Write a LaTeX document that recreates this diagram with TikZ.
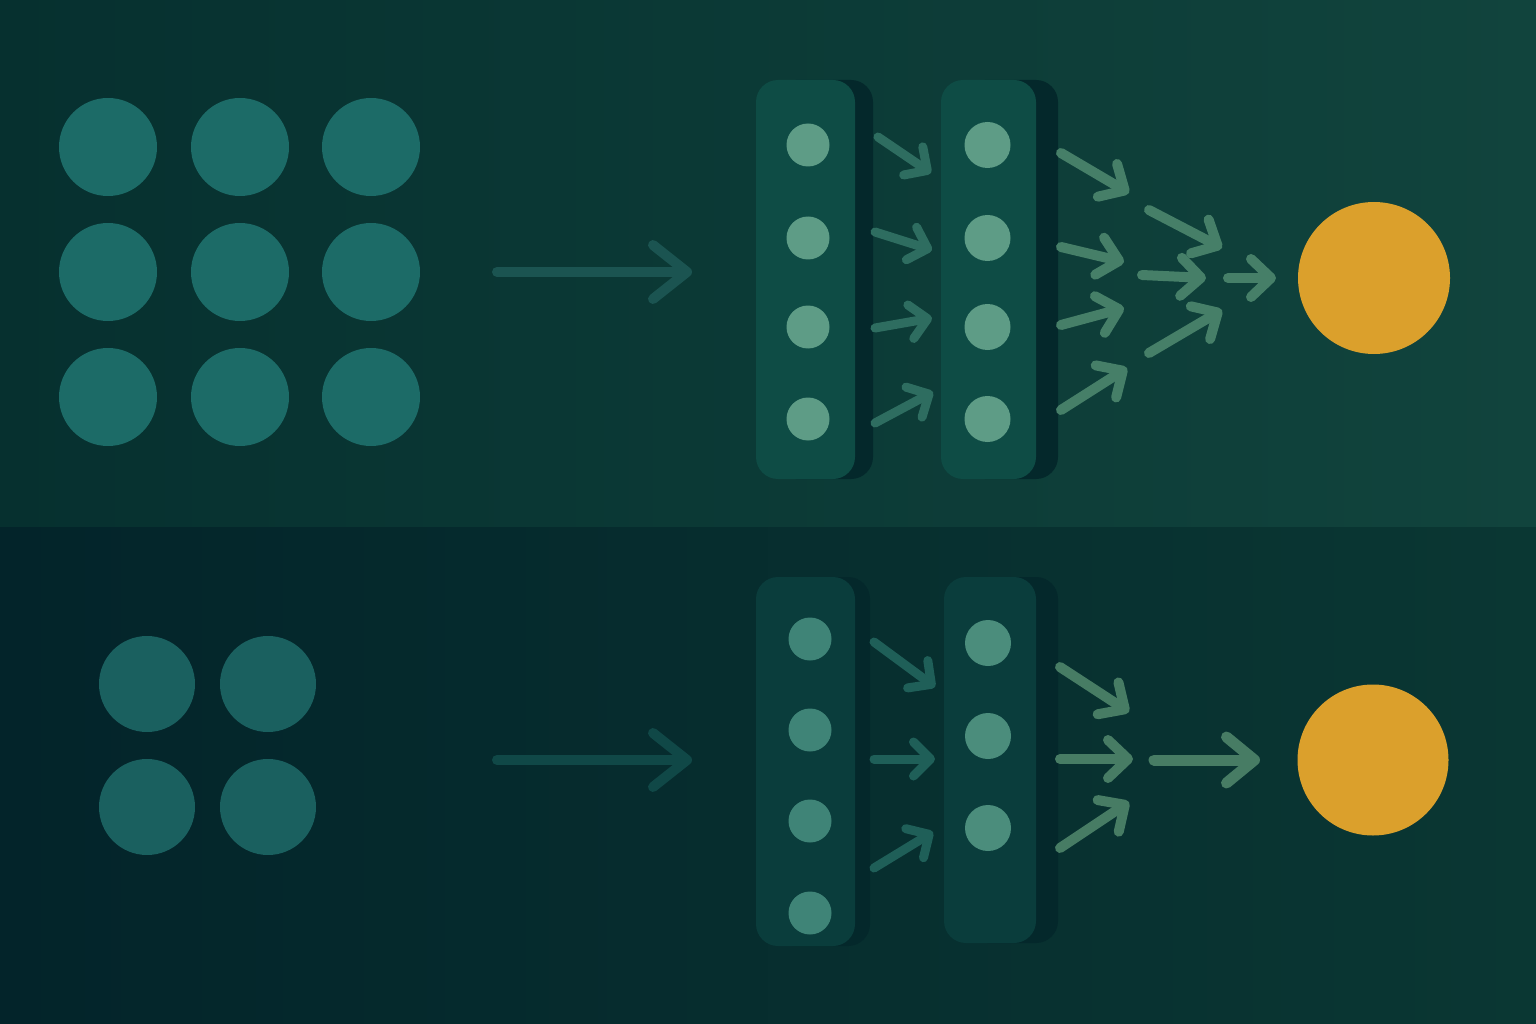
\documentclass[tikz,border=0pt]{standalone}
\usepackage{tikz}
\usetikzlibrary{arrows.meta,positioning}
\definecolor{bgtopl}{HTML}{06302F}
\definecolor{bgtopm}{HTML}{093734}
\definecolor{bgtopr}{HTML}{11443D}
\definecolor{bgbotl}{HTML}{03242A}
\definecolor{bgbotm}{HTML}{052B2E}
\definecolor{bgbotr}{HTML}{0A3733}
\definecolor{griddot}{HTML}{1C6B67}
\definecolor{griddotlo}{HTML}{1A605F}
\definecolor{panelhi}{HTML}{0E4C45}
\definecolor{panello}{HTML}{0A3D3C}
\definecolor{panelshade}{HTML}{04282B}
\definecolor{unithi}{HTML}{5E9C86}
\definecolor{unitlo}{HTML}{3F8477}
\definecolor{unitmid}{HTML}{4B8D7C}
\definecolor{flowin}{HTML}{1B5451}
\definecolor{flowinlo}{HTML}{104847}
\definecolor{flowmid}{HTML}{2E6D60}
\definecolor{flowmidlo}{HTML}{1F5F58}
\definecolor{flowout}{HTML}{467F68}
\definecolor{flowoutlo}{HTML}{477C64}
\definecolor{result}{HTML}{DBA02C}
\tikzset{
dot/.style={circle, inner sep=0pt, minimum size=98pt, fill=griddot}, % input cells
panel/.style={rounded corners=22pt, inner sep=0pt, fill=panelhi}, % one layer
panelbg/.style={rounded corners=22pt, inner sep=0pt, fill=panelshade}, % its shadow
unit/.style={circle, inner sep=0pt, minimum size=43pt, fill=unithi}, % neuron of a layer
bigunit/.style={unit, minimum size=46pt},
goal/.style={circle, inner sep=0pt, minimum size=152pt, fill=result}, % the output
flow/.style={line cap=round, line width=9pt, -{Straight Barb[length=17pt, width=34pt, line width=9pt, round]}},
bigflow/.style={line cap=round, line width=10pt, -{Straight Barb[length=34pt, width=54pt, line width=10pt, round]}},
fanflow/.style={line cap=round, line width=10pt, -{Straight Barb[length=20pt, width=38pt, line width=10pt, round]}},
}
\begin{document}
\begin{tikzpicture}[x=1pt, y=-1pt]
\useasboundingbox (0,0) rectangle (1536,1024);
% background, two bands
\fill[left color=bgtopl, middle color=bgtopm, right color=bgtopr] (0,0) rectangle (1536,527);
\fill[left color=bgbotl, middle color=bgbotm, right color=bgbotr] (0,527) rectangle (1536,1024);

% ---- upper band ----
\foreach \i/\x in {1/108,2/240,3/371}
  \foreach \j/\y in {1/147,2/272,3/397}
    \node[dot] (g\i\j) at (\x,\y) {};

\coordinate (tin) at (497,272);
\coordinate (tinend) at (692,272);
\draw[bigflow, flowin] (tin) -- (tinend);

\node[panelbg, minimum width=99pt, minimum height=399pt] (tas) at (823.5,279.5) {};
\node[panel, minimum width=99pt, minimum height=399pt] (ta) at (805.5,279.5) {};
\node[panelbg, minimum width=95pt, minimum height=399pt] (tbs) at (1010.5,279.5) {};
\node[panel, minimum width=95pt, minimum height=399pt] (tb) at (988.5,279.5) {};
\foreach \n/\y in {1/145,2/238,3/327,4/419} {
  \node[unit] (ta\n) at (808,\y) {};
  \node[bigunit] (tb\n) at (987.5,\y) {};
}

\foreach \n/\a/\b/\c/\d in {1/878/137/931/173, 2/875/232/932/250, 3/875/328/932/318, 4/875/423/933/392} {
  \coordinate (ab\n) at (\a,\b);
  \coordinate (ae\n) at (\c,\d);
  \draw[flow, flowmid] (ab\n) -- (ae\n);
}
\foreach \n/\a/\b/\c/\d in {1/1061/153/1129/193, 2/1061/247/1124/262, 3/1061/325/1124/308, 4/1061/410/1127/368,
                           5/1149/210/1222/248, 6/1142/275/1206/278, 7/1149/353/1222/310, 8/1228/278/1276/278} {
  \coordinate (bb\n) at (\a,\b);
  \coordinate (be\n) at (\c,\d);
  \draw[fanflow, flowout] (bb\n) -- (be\n);
}
\node[goal] (tout) at (1374,278) {};

% ---- lower band ----
\foreach \i/\x in {1/147,2/268}
  \foreach \j/\y in {1/684,2/807}
    \node[dot, minimum size=96pt, fill=griddotlo] (h\i\j) at (\x,\y) {};

\coordinate (bin) at (497,760);
\coordinate (binend) at (692,760);
\draw[bigflow, flowinlo] (bin) -- (binend);

\node[panelbg, minimum width=99pt, minimum height=369pt] (bas) at (820.5,761.5) {};
\node[panel, fill=panello, minimum width=99pt, minimum height=369pt] (ba) at (805.5,761.5) {};
\node[panelbg, minimum width=92pt, minimum height=366pt] (bbs) at (1012,760) {};
\node[panel, fill=panello, minimum width=92pt, minimum height=366pt] (bb) at (990,760) {};
\foreach \n/\y in {1/639,2/730,3/821,4/913}
  \node[unit, fill=unitlo] (ba\n) at (810,\y) {};
\foreach \n/\y in {1/643,2/736,3/828}
  \node[bigunit, fill=unitmid] (bb\n) at (988,\y) {};

\foreach \n/\a/\b/\c/\d in {1/874/642/935/687, 2/874/759/935/759, 3/874/868/933/832} {
  \coordinate (eb\n) at (\a,\b);
  \coordinate (ee\n) at (\c,\d);
  \draw[flow, flowmidlo] (eb\n) -- (ee\n);
}
\foreach \n/\a/\b/\c/\d in {1/1060/667/1129/712, 2/1060/759/1133/759, 3/1060/848/1129/802} {
  \coordinate (fb\n) at (\a,\b);
  \coordinate (fe\n) at (\c,\d);
  \draw[fanflow, flowoutlo] (fb\n) -- (fe\n);
}
\coordinate (gb) at (1154,760);
\coordinate (ge) at (1260,760);
\draw[line cap=round, line width=11pt, flowoutlo, -{Straight Barb[length=28pt, width=46pt, line width=11pt, round]}] (gb) -- (ge);
\node[goal, minimum size=151pt] (bout) at (1373,760) {};
\end{tikzpicture}
\end{document}
